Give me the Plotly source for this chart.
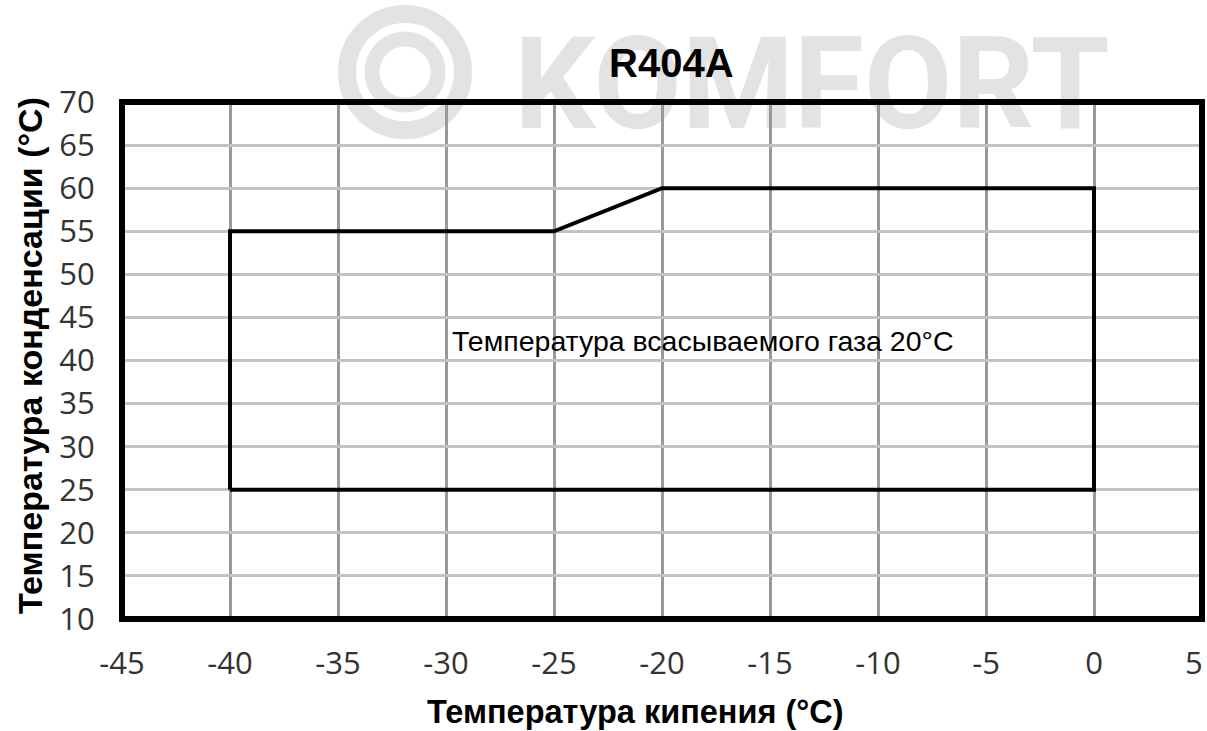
import plotly.graph_objects as go

# Data
envelope_x = [-40, -40, -25, -20, 0, 0, -40]
envelope_y = [25, 55, 55, 60, 60, 25, 25]
x_ticks = [-45, -40, -35, -30, -25, -20, -15, -10, -5, 0, 5]
x_tick_labels = ["-45", "-40", "-35", "-30", "-25", "-20", "-15", "-10", "-5", "0", "5"]
y_ticks = [10, 15, 20, 25, 30, 35, 40, 45, 50, 55, 60, 65, 70]
title_text = "R404A"
x_title = "Температура кипения (°C)"
y_title = "Температура конденсации (°C)"
note_text = "Температура всасываемого газа 20°C"
note_pos = (-18.1, 42.3)
watermark_text = "KOMFORT"

W, H = 1207, 731
L, R, T, B = 122, 5, 102, 112
pw, ph = W - L - R, H - T - B

def px_x(px):
    return (px - L) / pw

def px_y(py):
    return (H - B - py) / ph

fig = go.Figure()

fig.add_trace(go.Scatter(
    x=envelope_x, y=envelope_y, mode="lines",
    line=dict(color="black", width=4), showlegend=False, hoverinfo="skip",
))

fig.add_annotation(
    x=note_pos[0], y=note_pos[1], xref="x", yref="y", text=note_text,
    showarrow=False, font=dict(family="Arial, Liberation Sans", size=28.5, color="black"),
    xanchor="center", yanchor="middle",
)

tick_font = dict(family="Open Sans", size=31, color="#333333")

shapes = []
# watermark logo rings
wm = "#e3e3e3"
cx, cy = px_x(405), px_y(72)
for r, w in [(58, 18), (33, 15)]:
    shapes.append(dict(
        type="circle", layer="below", xref="paper", yref="paper",
        xsizemode="pixel", ysizemode="pixel", xanchor=cx, yanchor=cy,
        x0=-r, x1=r, y0=-r, y1=r, line=dict(color=wm, width=w),
    ))
# watermark text
shapes.append(dict(
    type="rect", layer="below", xref="paper", yref="paper",
    x0=px_x(512), x1=px_x(1112), y0=px_y(135), y1=px_y(15),
    line=dict(width=0), fillcolor="rgba(0,0,0,0)",
    label=dict(text=watermark_text, textposition="middle center",
               font=dict(family="Roboto, Arial", size=128, color=wm, weight="bold")),
))
# plot frame
shapes.append(dict(
    type="rect", layer="above", xref="paper", yref="paper",
    x0=0, x1=1, y0=0, y1=1, line=dict(color="black", width=6),
))

# last x tick label sits at the right edge: place it inside the page
last_label = dict(text=x_tick_labels[-1], xref="paper", yref="paper", x=1, y=0,
                  xanchor="right", yanchor="middle", xshift=3, yshift=-(662 - (H - B)),
                  showarrow=False, font=tick_font)

fig.update_layout(
    width=W, height=H,
    margin=dict(l=L, r=R, t=T, b=B, autoexpand=False),
    paper_bgcolor="white", plot_bgcolor="rgba(0,0,0,0)",
    shapes=shapes,
    showlegend=False,
    annotations=list(fig.layout.annotations) + [
        dict(text=title_text, xref="paper", yref="paper", x=px_x(671), y=1,
             yshift=T - 63, xanchor="center", yanchor="middle", showarrow=False,
             font=dict(family="Arial, Liberation Sans", size=40, color="black", weight="bold")),
        dict(text=x_title, xref="paper", yref="paper", x=px_x(635), y=0,
             yshift=-(712 - (H - B)), xanchor="center", yanchor="middle", showarrow=False,
             font=dict(family="Arial, Liberation Sans", size=32.5, color="black", weight="bold")),
        dict(text=y_title, xref="paper", yref="paper", x=0, y=px_y(356),
             xshift=30 - L, xanchor="center", yanchor="middle", showarrow=False, textangle=-90,
             font=dict(family="Arial, Liberation Sans", size=34, color="black", weight="bold")),
        last_label,
    ],
)

fig.update_xaxes(
    range=[-45, 5], tickvals=x_ticks[:-1], ticktext=x_tick_labels[:-1],
    showgrid=True, gridcolor="#999999", gridwidth=3, zeroline=False, showline=False,
    ticks="outside", ticklen=17, tickcolor="rgba(0,0,0,0)", automargin=False,
    tickfont=tick_font,
    fixedrange=True,
)
fig.update_yaxes(
    range=[10, 70], tickvals=y_ticks, ticktext=[str(v) for v in y_ticks],
    showgrid=True, gridcolor="#c4c4c4", gridwidth=3, zeroline=False, showline=False,
    ticks="outside", ticklen=20, tickcolor="rgba(0,0,0,0)", automargin=False,
    tickfont=tick_font,
    fixedrange=True,
)

fig.write_html(
    "out.html",
    config={"displayModeBar": False, "staticPlot": True},
    post_script="document.body.style.margin='0';document.body.style.overflow='hidden';",
)
